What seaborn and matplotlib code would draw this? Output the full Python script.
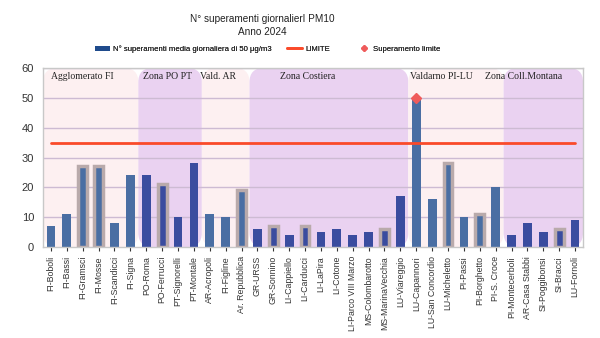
import matplotlib
matplotlib.use("Agg")
import matplotlib.pyplot as plt
import seaborn as sns
import pandas as pd
from matplotlib.patches import FancyBboxPatch, Patch
from matplotlib.lines import Line2D

stations = ["FI-Boboli", "FI-Bassi", "FI-Gramsci", "FI-Mosse", "FI-Scandicci", "FI-Signa",
            "PO-Roma", "PO-Ferrucci", "PT-Signorelli", "PT-Montale",
            "AR-Acropoli", "FI-Figline", "Ar. Repubblica",
            "GR-URSS", "GR-Sonnino", "LI-Cappiello", "LI-Carducci", "LI-LaPira", "LI-Cotone",
            "LI-Parco VIII Marzo", "MS-Colombarotto", "MS-MarinaVecchia", "LU-Viareggio",
            "LU-Capannori", "LU-San Concordio", "LU-Micheletto", "PI-Passi", "PI-Borghetto", "PI-S. Croce",
            "PI-Montecerboli", "AR-Casa Stabbi", "SI-Poggibonsi", "SI-Bracci", "LU-Fornoli"]
values = [7, 11, 27, 27, 8, 24,
          24, 21, 10, 28,
          11, 10, 19,
          6, 7, 4, 7, 5, 6, 4, 5, 6, 17,
          50, 16, 28, 10, 11, 20,
          4, 8, 5, 6, 9]
highlighted = ["FI-Gramsci", "FI-Mosse", "PO-Ferrucci", "Ar. Repubblica", "GR-Sonnino",
               "LI-Carducci", "MS-MarinaVecchia", "LU-Micheletto", "PI-Borghetto", "SI-Bracci"]
zones = ["Agglomerato FI", "Zona PO PT", "Vald. AR", "Zona Costiera", "Valdarno PI-LU", "Zona Coll.Montana"]
zone_counts = [6, 4, 3, 10, 6, 5]
zone_kind = ["pink", "purple", "pink", "purple", "pink", "purple"]
zone_label_x = [0.0, 5.8, 9.4, 14.4, 22.6, 27.3]
limit_value = 35
exceed_station = "LU-Capannori"
exceed_value = 50

bg_col = {"pink": "#fdf0f1", "purple": "#ead2f1"}
bar_col = {"pink": "#4a6ea3", "purple": "#3a4c9f"}

station_zone_kind = []
for k, n in zip(zone_kind, zone_counts):
    station_zone_kind += [k] * n

df = pd.DataFrame({"station": stations, "value": values})
palette = {s: bar_col[k] for s, k in zip(stations, station_zone_kind)}

sns.set_style("white")
plt.rcParams['font.family'] = ['Liberation Sans', 'DejaVu Sans']

fig = plt.figure(figsize=(6, 3.38), dpi=100)
ax = fig.add_axes([0.0717, 0.2692, 0.9, 0.5296])

sns.barplot(data=df, x="station", y="value", hue="station", palette=palette,
            legend=False, width=0.55, ax=ax, zorder=2, saturation=1)

for cont in ax.containers:
    for p in cont.patches:
        idx = int(round(p.get_x() + p.get_width() / 2))
        if stations[idx] in highlighted:
            p.set_edgecolor("#b9aaab")
            p.set_linewidth(2.5)
        else:
            p.set_edgecolor("none")
            p.set_linewidth(0)

# zone backgrounds
start = -0.5
for z, n, k in zip(zones, zone_counts, zone_kind):
    box = FancyBboxPatch((start, 0), n, 60,
                         boxstyle="round,pad=0,rounding_size=0.9",
                         mutation_aspect=5.3,
                         facecolor=bg_col[k], edgecolor="none", linewidth=0, zorder=0)
    ax.add_patch(box)
    start += n

for y in range(10, 61, 10):
    ax.axhline(y, color="#cdbbd3", lw=1, zorder=0.5)

ax.plot([0, len(stations) - 1], [limit_value, limit_value], color="#fa4a2a", lw=2, zorder=3)
ax.plot([stations.index(exceed_station)], [exceed_value], marker="D", color="#ef5b5b",
        markersize=5, zorder=4, linestyle="none")

for z, x in zip(zones, zone_label_x):
    ax.text(x, 57, z, fontsize=7, family="Liberation Serif", color="#222222",
            ha="left", va="center", zorder=5)

ax.set_xlim(-0.5, len(stations) - 0.5)
ax.set_ylim(0, 60)
ax.set_yticks(range(0, 61, 10))
ax.set_xlabel("")
ax.set_ylabel("")
ax.tick_params(axis="y", labelsize=8, colors="#333333", length=3)
ax.tick_params(axis="x", labelsize=6.3, colors="#333333", rotation=90, length=3, bottom=True)
for sp in ax.spines.values():
    sp.set_color("#c8c8c8")
    sp.set_linewidth(1)

fig.text(0.437, 0.944, "N° superamenti giornalierI PM10", ha="center", va="center", fontsize=7.2, color="#222222")
fig.text(0.437, 0.905, "Anno 2024", ha="center", va="center", fontsize=7.2, color="#222222")

leg_items = [
    (Patch(facecolor="#1f4b8c", edgecolor="none"), "N° superamenti media giornaliera di 50 µg/m3", 0.158, 1.9),
    (Line2D([0], [0], color="#fa4a2a", lw=2), "LIMITE", 0.478, 2.0),
    (Line2D([0], [0], color="#ef5b5b", marker="D", markersize=3, linestyle="none"), "Superamento limite", 0.598, 1.4),
]
for h, lab, x, hl in leg_items:
    lg = fig.legend([h], [lab], loc="center left", bbox_to_anchor=(x, 0.855), frameon=False,
                    fontsize=5.6, handlelength=hl, handleheight=0.6, handletextpad=0.4,
                    borderpad=0, borderaxespad=0)
    fig.add_artist(lg)

fig.savefig("out.png", dpi=100)
